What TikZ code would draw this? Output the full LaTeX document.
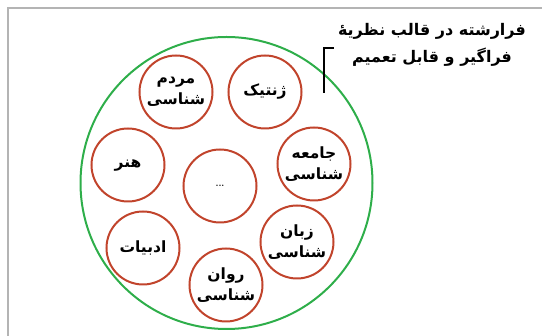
\documentclass[tikz,border=0pt]{standalone}
\usepackage{fontspec}
\newfontfamily\arabicfont[Script=Arabic]{DejaVu Sans}
\TeXXeTstate=1
\usepackage{tikz}
\usetikzlibrary{shapes.geometric, positioning}
\definecolor{ringgreen}{HTML}{2EAE4A}
\definecolor{fieldred}{HTML}{C1442C}
\definecolor{framegray}{HTML}{B4B4B4}
\newcommand{\faline}[1]{{\arabicfont\bfseries\beginR #1\endR}}

\begin{document}
\begin{tikzpicture}[
  x=1pt, y=-1pt,
  whole/.style={circle, draw=ringgreen, line width=2pt,
    minimum size=292pt, inner sep=0pt},
  field/.style={circle, draw=fieldred, line width=2pt,
    minimum size=73pt, inner sep=0pt,
    align=center, font=\fontsize{15.5}{21}\selectfont},
  note/.style={align=center, inner sep=0pt,
    font=\fontsize{16}{27}\selectfont},
  hook/.style={line width=1.3pt, black},
  frame/.style={line width=1.2pt, framegray}
]
  \useasboundingbox (0,0) rectangle (542,336);
  \draw[frame] (542,8) -- (8,8) -- (8,336);

  \node[whole] (ring) at (226.5,183) {};

  \node[field] (genetic) at (265,92)  {\faline{ژنتیک}};
  \node[field] (anthro)  at (176,92)  {\faline{مردم}\\\faline{شناسی}};
  \node[field] (art)     at (128,165) {\faline{هنر}};
  \node[field] (other)   at (220,186) {\small\textbf{...}};
  \node[field] (socio)   at (314,164) {\faline{جامعه}\\\faline{شناسی}};
  \node[field] (lit)     at (143,248) {\faline{ادبیات}};
  \node[field] (lang)    at (297,242) {\faline{زبان}\\\faline{شناسی}};
  \node[field] (psych)   at (226,285) {\faline{روان}\\\faline{شناسی}};

  % callout
  \node[note] (note) at (432,45)
    {\faline{فرارشته در قالب نظریهٔ}\\\faline{فراگیر و قابل تعمیم}};
  \coordinate (tip) at (324,93);
  \draw[hook] (note.west |- 0,48) ++(-4,0) -| (tip);
\end{tikzpicture}
\end{document}
